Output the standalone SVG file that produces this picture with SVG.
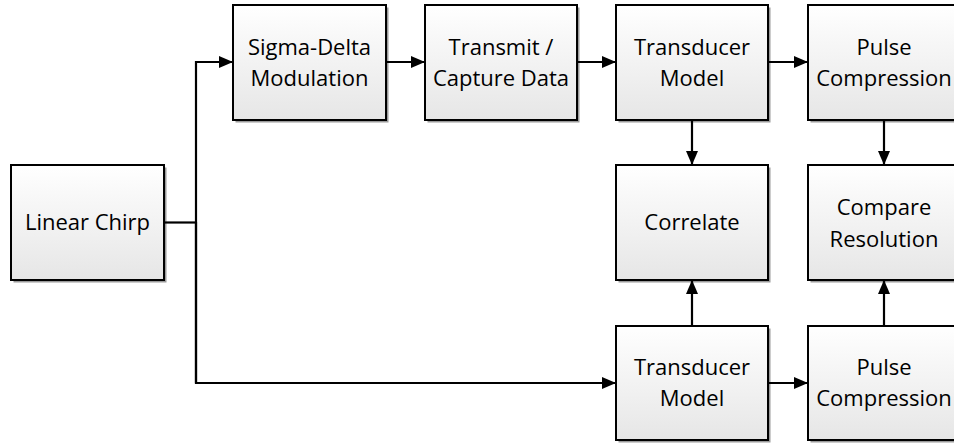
<svg xmlns="http://www.w3.org/2000/svg" width="954" height="444" viewBox="0 0 954 444">
<style>
.box{fill:url(#g);stroke:#000;stroke-width:2}
.sh{fill:#9a9a9a}
.t{font-family:"Open Sans","Liberation Sans",sans-serif;font-size:22px;fill:#000;text-anchor:middle}
.c{fill:none;stroke:#000;stroke-width:2.2}
</style>
<defs>
<linearGradient id="g" x1="0" y1="0" x2="0" y2="1">
<stop offset="0" stop-color="#ffffff"/>
<stop offset="1" stop-color="#e6e6e6"/>
</linearGradient>
<marker id="a" markerUnits="userSpaceOnUse" markerWidth="14" markerHeight="12" refX="14" refY="6" orient="auto">
<path d="M0,0 L14,6 L0,12 Z" fill="#000"/>
</marker>
</defs>
<rect width="954" height="444" fill="#fff"/>
<g id="linear-chirp"><rect class="sh" x="13.5" y="167.5" width="153" height="115"/><rect class="box" x="11" y="165" width="153" height="115"/><text class="t" x="87.5" y="230">Linear Chirp</text></g>
<g id="sigma-delta"><rect class="sh" x="235.5" y="7.5" width="153" height="115"/><rect class="box" x="233" y="5" width="153" height="115"/><text class="t" x="309.5" y="55">Sigma-Delta</text><text class="t" x="309.5" y="86">Modulation</text></g>
<g id="transmit"><rect class="sh" x="427.5" y="7.5" width="152" height="115"/><rect class="box" x="425" y="5" width="152" height="115"/><text class="t" x="501" y="55">Transmit /</text><text class="t" x="501" y="86">Capture Data</text></g>
<g id="transducer-top"><rect class="sh" x="618.5" y="7.5" width="152" height="115"/><rect class="box" x="616" y="5" width="152" height="115"/><text class="t" x="692" y="55">Transducer</text><text class="t" x="692" y="86">Model</text></g>
<g id="pulse-top"><rect class="sh" x="810.5" y="7.5" width="152" height="115"/><rect class="box" x="808" y="5" width="152" height="115"/><text class="t" x="884" y="55">Pulse</text><text class="t" x="884" y="86">Compression</text></g>
<g id="correlate"><rect class="sh" x="618.5" y="167.5" width="152" height="115"/><rect class="box" x="616" y="165" width="152" height="115"/><text class="t" x="692" y="230">Correlate</text></g>
<g id="compare"><rect class="sh" x="810.5" y="167.5" width="152" height="115"/><rect class="box" x="808" y="165" width="152" height="115"/><text class="t" x="884" y="215">Compare</text><text class="t" x="884" y="247">Resolution</text></g>
<g id="transducer-bottom"><rect class="sh" x="618.5" y="328.5" width="152" height="114"/><rect class="box" x="616" y="326" width="152" height="114"/><text class="t" x="692" y="375">Transducer</text><text class="t" x="692" y="406">Model</text></g>
<g id="pulse-bottom"><rect class="sh" x="810.5" y="328.5" width="152" height="114"/><rect class="box" x="808" y="326" width="152" height="114"/><text class="t" x="884" y="375">Pulse</text><text class="t" x="884" y="406">Compression</text></g>
<g id="connectors">
<path class="c" d="M164,222.5 H196"/>
<path class="c" d="M196,383 V62 H233" marker-end="url(#a)"/>
<path class="c" d="M196,222 V383 H616" marker-end="url(#a)"/>
<path class="c" d="M386,62 H425" marker-end="url(#a)"/>
<path class="c" d="M577,62 H616" marker-end="url(#a)"/>
<path class="c" d="M768,62 H808" marker-end="url(#a)"/>
<path class="c" d="M692,120 V165" marker-end="url(#a)"/>
<path class="c" d="M884,120 V165" marker-end="url(#a)"/>
<path class="c" d="M692,326 V280" marker-end="url(#a)"/>
<path class="c" d="M884,326 V280" marker-end="url(#a)"/>
<path class="c" d="M768,383 H808" marker-end="url(#a)"/>
</g>
</svg>
